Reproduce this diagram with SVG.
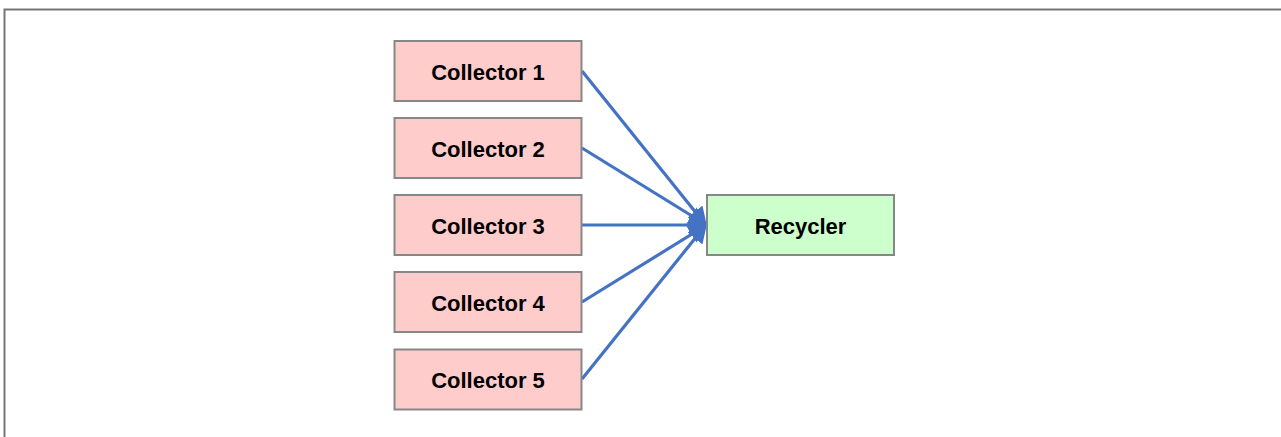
<svg xmlns="http://www.w3.org/2000/svg" width="1281" height="437" viewBox="0 0 1281 437">
<defs>
<style>
.frame{fill:none;stroke:#767676;stroke-width:2}
.col rect{fill:#ffcccc;stroke:#878787;stroke-width:2}
.rec rect{fill:#ccffcc;stroke:#878787;stroke-width:2}
text{font-family:"Liberation Sans",Arial,sans-serif;font-weight:bold;font-size:22px;fill:#000;text-anchor:middle;dominant-baseline:central}
.edge{stroke:#4472c4;stroke-width:3.2;fill:none;marker-end:url(#ah)}
</style>
<marker id="ah" markerWidth="6" markerHeight="6" refX="5" refY="3" orient="auto" markerUnits="strokeWidth">
<path d="M0,0 L6,3 L0,6 z" fill="#4472c4"/>
</marker>
</defs>
<rect width="1281" height="437" fill="#fff"/>
<path class="frame" d="M4.5,437 V9.5 H1281"/>
<g id="edges">
<line class="edge" x1="582" y1="71" x2="705" y2="224"/>
<line class="edge" x1="582" y1="148" x2="705" y2="224"/>
<line class="edge" x1="582" y1="225" x2="705" y2="225"/>
<line class="edge" x1="582" y1="302" x2="705" y2="226"/>
<line class="edge" x1="582" y1="379" x2="705" y2="226"/>
</g>
<g id="collector1" class="col"><rect x="394.5" y="41" width="187" height="60"/><text x="488" y="72">Collector 1</text></g>
<g id="collector2" class="col"><rect x="394.5" y="118" width="187" height="60"/><text x="488" y="149">Collector 2</text></g>
<g id="collector3" class="col"><rect x="394.5" y="195" width="187" height="60"/><text x="488" y="226">Collector 3</text></g>
<g id="collector4" class="col"><rect x="394.5" y="272" width="187" height="60"/><text x="488" y="303">Collector 4</text></g>
<g id="collector5" class="col"><rect x="394.5" y="349.5" width="187" height="60"/><text x="488" y="380">Collector 5</text></g>
<g id="recycler" class="rec"><rect x="707" y="195" width="187" height="60"/><text x="800.5" y="226">Recycler</text></g>
</svg>
